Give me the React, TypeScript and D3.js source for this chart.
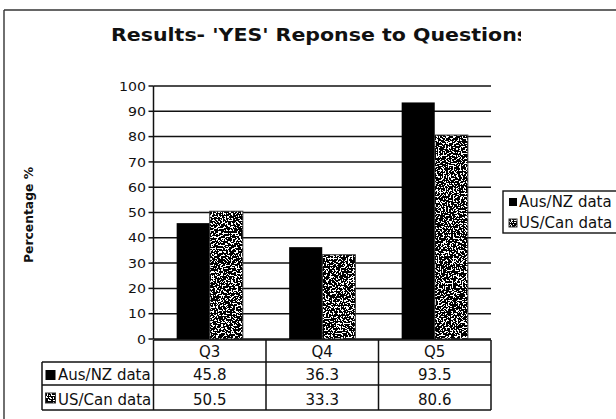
import React from 'react';
import * as d3 from 'd3';

// Chart data
const categories = ['Q3', 'Q4', 'Q5'];
const seriesNames = ['Aus/NZ data', 'US/Can data'];
const ausNzValues = [45.8, 36.3, 93.5];
const usCanValues = [50.5, 33.3, 80.6];
const yTickValues = [0, 10, 20, 30, 40, 50, 60, 70, 80, 90, 100];
const titleText = "Results- 'YES' Reponse to Questions";
const yAxisLabel = 'Percentage %';

const seriesValues = [ausNzValues, usCanValues];

const W = 616;
const H = 419;
const plot = { left: 153.5, right: 491, top: 86, bottom: 339 };
const table = { labelLeft: 42, headerTop: 340, row1Top: 362, row2Top: 385, bottom: 410 };
const FONT = "'DejaVu Sans', Verdana, sans-serif";

export default function App() {
  const x0 = d3.scaleBand<string>().domain(categories).range([plot.left, plot.right]).padding(0);
  const x1 = d3
    .scaleBand<string>()
    .domain(seriesNames)
    .range([0, x0.bandwidth()])
    .paddingInner(0)
    .paddingOuter(0.7);
  const y = d3.scaleLinear().domain([0, 100]).range([plot.bottom, plot.top]);

  const rowTops = [table.row1Top, table.row2Top];
  const rowBottoms = [table.row2Top, table.bottom];

  // Draws a series swatch: solid black or the grain texture with a grey border
  const swatch = (si: number, x: number, yy: number, w: number, h: number, key: string) =>
    si === 0 ? (
      <rect key={key} x={x} y={yy} width={w} height={h} fill="#000" />
    ) : (
      <g key={key}>
        <rect x={x} y={yy} width={w} height={h} fill="#000" filter="url(#grain)" />
        <rect x={x} y={yy} width={w} height={h} fill="none" stroke="#333" strokeWidth={1} />
      </g>
    );

  return (
    <svg
      width={W}
      height={H}
      style={{ position: 'absolute', left: 0, top: 0, background: '#fff' }}
      fontFamily={FONT}
    >
      <defs>
        <filter id="grain" x="0" y="0" width="1" height="1" colorInterpolationFilters="sRGB">
          <feTurbulence type="fractalNoise" baseFrequency="0.6" numOctaves={3} seed={11} result="noise" />
          <feColorMatrix
            in="noise"
            type="matrix"
            values="0 0 0 0 0  0 0 0 0 0  0 0 0 0 0  1 0 0 0 0"
            result="alpha"
          />
          <feComponentTransfer in="alpha" result="dots">
            <feFuncA type="discrete" tableValues="0 0 0 0 0 0 0 0 0 1 1 1 1 1 1 1 1 1 1 1" />
          </feComponentTransfer>
          <feFlood floodColor="#fff" result="white" />
          <feComposite in="dots" in2="white" operator="over" result="tex" />
          <feComposite in="tex" in2="SourceGraphic" operator="in" />
        </filter>
        <clipPath id="titleClip">
          <rect x={0} y={0} width={521} height={60} />
        </clipPath>
        <clipPath id="labelClip">
          <rect x={table.labelLeft} y={table.row1Top} width={plot.left - table.labelLeft} height={table.bottom - table.row1Top} />
        </clipPath>
      </defs>

      <rect x={0} y={0} width={W} height={H} fill="#fff" />

      {/* outer chart frame */}
      <line x1={4} y1={10} x2={W} y2={10} stroke="#333" strokeWidth={1.4} />
      <line x1={4} y1={10} x2={4} y2={H} stroke="#333" strokeWidth={1.4} />

      {/* title */}
      <g clipPath="url(#titleClip)">
        <text
          x={111}
          y={41}
          fontSize={18.5}
          fontWeight="bold"
          textLength={418}
          lengthAdjust="spacingAndGlyphs"
          fill="#111"
        >
          {titleText}
        </text>
      </g>

      {/* y axis title */}
      <text
        transform={`translate(33, 215) rotate(-90)`}
        textAnchor="middle"
        fontSize={12.5}
        fontWeight="bold"
        textLength={96}
        lengthAdjust="spacingAndGlyphs"
        fill="#111"
      >
        {yAxisLabel}
      </text>

      {/* gridlines, ticks and tick labels */}
      {yTickValues.map((t) => (
        <g key={`t${t}`}>
          <line x1={plot.left} x2={plot.right} y1={y(t)} y2={y(t)} stroke="#111" strokeWidth={1.5} />
          <line x1={plot.left - 5} x2={plot.left} y1={y(t)} y2={y(t)} stroke="#111" strokeWidth={1.5} />
          <text
            x={146}
            y={y(t)}
            dy="0.36em"
            textAnchor="end"
            fontSize={13}
            textLength={String(t).length * 9}
            lengthAdjust="spacingAndGlyphs"
            fill="#111"
          >
            {t}
          </text>
        </g>
      ))}

      {/* bars */}
      {categories.map((c, ci) =>
        seriesNames.map((s, si) => {
          const v = seriesValues[si][ci];
          const bx = (x0(c) as number) + (x1(s) as number);
          return swatch(si, bx, y(v), x1.bandwidth(), y(0) - y(v), `b${ci}-${si}`);
        })
      )}

      {/* value axis line */}
      <line x1={plot.left} x2={plot.left} y1={plot.top} y2={plot.bottom} stroke="#111" strokeWidth={1.5} />

      {/* data table */}
      <g stroke="#111" strokeWidth={1.5}>
        <line x1={plot.left} x2={plot.right} y1={table.headerTop} y2={table.headerTop} />
        <line x1={table.labelLeft} x2={plot.right} y1={table.row1Top} y2={table.row1Top} />
        <line x1={table.labelLeft} x2={plot.right} y1={table.row2Top} y2={table.row2Top} />
        <line x1={table.labelLeft} x2={plot.right} y1={table.bottom} y2={table.bottom} />
        <line x1={table.labelLeft} x2={table.labelLeft} y1={table.row1Top} y2={table.bottom} />
        {categories.map((c) => (
          <line
            key={`v${c}`}
            x1={x0(c) as number}
            x2={x0(c) as number}
            y1={table.headerTop}
            y2={table.bottom}
          />
        ))}
        <line x1={plot.right} x2={plot.right} y1={table.headerTop} y2={table.bottom} />
      </g>
      {categories.map((c) => (
        <text
          key={`h${c}`}
          x={(x0(c) as number) + x0.bandwidth() / 2}
          y={357}
          textAnchor="middle"
          fontSize={15}
          fill="#111"
        >
          {c}
        </text>
      ))}
      {seriesNames.map((s, si) => (
        <g key={`row${si}`}>
          {swatch(si, 45.5, rowTops[si] + 8, 10, 10, `k${si}`)}
          <g clipPath="url(#labelClip)">
            <text x={58} y={rowBottoms[si] - 5} fontSize={15} fill="#111">
              {s}
            </text>
          </g>
          {categories.map((c, ci) => (
            <text
              key={`c${ci}`}
              x={(x0(c) as number) + x0.bandwidth() / 2}
              y={rowBottoms[si] - 5}
              textAnchor="middle"
              fontSize={15}
              fill="#111"
            >
              {seriesValues[si][ci].toFixed(1)}
            </text>
          ))}
        </g>
      ))}

      {/* legend */}
      <rect x={503} y={191} width={W - 503 + 5} height={42} fill="#fff" stroke="#111" strokeWidth={1.4} />
      {seriesNames.map((s, si) => (
        <g key={`lg${si}`}>
          {swatch(si, 509, 198 + si * 21, 8, 8, `lk${si}`)}
          <text x={519} y={207 + si * 21} fontSize={15} fill="#111">
            {s}
          </text>
        </g>
      ))}
    </svg>
  );
}
